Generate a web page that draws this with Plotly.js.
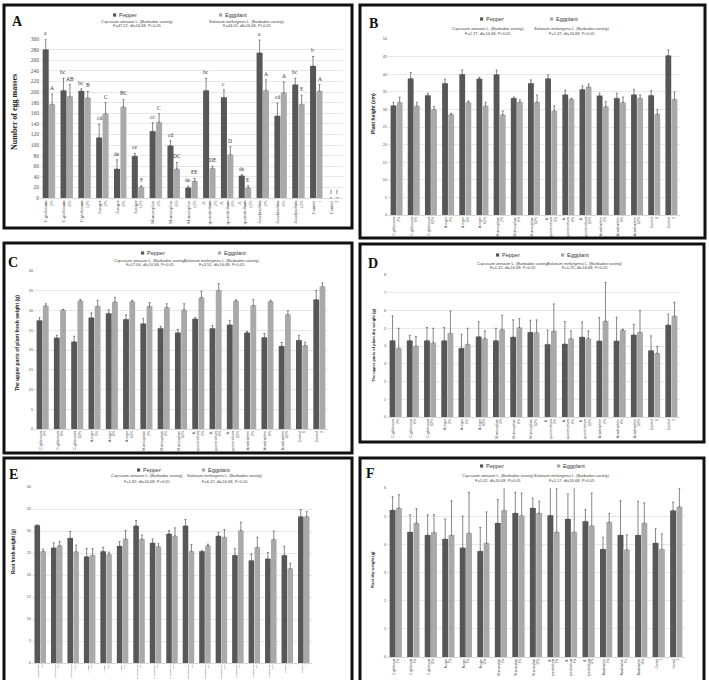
<!DOCTYPE html>
<html><head><meta charset="utf-8">
<script src="https://cdn.plot.ly/plotly-3.0.1.min.js"></script>
<style>html,body{margin:0;padding:0;background:#fff}#chart{width:709px;height:680px}</style>
</head><body><div id="chart"></div>
<script>
// ---------- data ----------
const categories = ["C.globosum<br>2%","C.globosum<br>6%","C.globosum<br>12%","A.niger<br>2%","A.niger<br>6%","A.niger<br>12%",
  "M.anisopliae<br>2%","M.anisopliae<br>6%","M.anisopliae<br>12%","A.<br>sporotrichum<br>2%","A.<br>sporotrichum<br>6%","A.<br>sporotrichum<br>12%",
  "Azadirachtin<br>2%","Azadirachtin<br>6%","Azadirachtin<br>12%","Control<br>1","Control<br>2"];

// A: number of egg masses
const aPepper    = [280,203,202,114,55,79,126,99,19.5,203,190,42,274,155,214,249,0];
const aPepperErr = [20,23,4,25,17,5,16,9,3,23,14,2,24,24,12,18,0];
const aEgg       = [177,192,189,159,172,21,143,55,32,56,82,19.5,203,199,177,202,0];
const aEggErr    = [19,22,12,21,14,2,16,12,5,4,15,4,20,20,17,12,0];
const aPepperLetters = ["a","bc","bc","cd","de","ce","cc","cd","de","bc","c","de","a","cd","bc","b","f"];
const aEggLetters    = ["A","AB","B","C","BC","F","C","DC","EE","DE","D","E","A","A","E","A","f"];

// B: plant height (cm)
const bPepper    = [31.1,38.8,34,37.4,40,38.7,39.9,33.2,37.4,38.8,34.2,35.7,33.9,33.2,34.2,34,45.3];
const bPepperErr = [0.9,1.7,0.6,1.2,1.2,0.4,1.3,0.3,1.0,1.0,1.3,1.0,0.7,1.4,1.5,1.3,1.6];
const bEgg       = [32,31,30,28.6,32,31,28.5,32.1,32.1,29.6,32.9,36.4,30.8,32,33.2,28.7,32.9];
const bEggErr    = [1.5,1.0,0.8,0.3,0.4,1.0,1.0,0.6,2.0,1.4,0.3,0.8,1.4,1.5,0.9,1.2,2.0];

// C: upper parts fresh weight (g)
const cPepper    = [27.5,23.1,22.1,28.2,29.3,27.8,26.7,25.5,24.4,27.9,25.5,26.4,24.4,23.2,21,22.5,32.8];
const cPepperErr = [0.7,0.6,1.4,1.2,0.9,1.1,1.3,0.5,0.8,0.3,0.7,1.1,0.3,1.0,0.9,1.2,2.3];
const cEgg       = [31.2,30.2,32.5,31.1,32.2,32.3,31.1,30.8,30.2,33.3,35.1,32.5,31.3,32.3,29,21.2,36.1];
const cEggErr    = [0.5,0.1,0.3,1.5,1.1,0.3,0.9,0.9,1.5,1.6,1.7,0.2,1.5,0.3,0.9,0.8,0.9];

// D: upper parts dry weight (g)
const dPepper    = [4.31,4.31,4.31,4.31,3.88,4.53,4.31,4.51,4.78,4.1,4.12,4.51,4.29,4.29,4.63,3.75,5.19];
const dPepperErr = [1.39,0.29,0.73,0.73,0.78,0.83,0.69,0.96,0.67,0.8,1.25,0.85,1.31,1.33,0.59,0.82,0.61];
const dEgg       = [3.88,4.0,4.19,4.72,4.1,4.42,4.94,5.04,4.76,4.85,4.42,4.42,5.41,4.9,4.78,3.6,5.69];
const dEggErr    = [1.12,0.53,0.81,1.25,0.9,0.43,0.79,0.5,0.71,1.52,0.43,0.43,2.17,0.05,1.22,0.37,0.77];

// E: root fresh weight (g)
const ePepper    = [31.3,26.2,28.4,24.2,25.4,26.6,31.2,27.3,29.4,31.2,25.4,28.9,24.5,23.3,23.7,24.5,33.3];
const ePepperErr = [0.1,1.1,1.5,1.8,0.9,1.0,1.2,0.9,0.7,1.4,0.1,0.8,1.5,1.5,1.4,2.0,1.6];
const eEgg       = [25.4,26.7,25.3,24.5,24.7,28.2,28.2,26.5,28.9,25.4,26.7,28.6,30.1,26.3,28.1,21.5,33.3];
const eEggErr    = [0.5,0.9,1.5,1.5,0.5,1.9,0.9,0.6,1.8,1.5,0.3,1.7,1.9,2.3,1.9,1.2,1.1];

// F: root dry weight (g)
const fPepper    = [5.22,4.44,4.33,4.19,3.88,3.76,4.76,5.11,5.29,5.03,4.9,4.82,3.83,4.33,4.33,4.05,5.2];
const fPepperErr = [0.47,0.61,0.72,0.71,1.12,0.84,0.83,0.74,0.35,1.0,0.89,0.41,0.42,1.22,1.2,0.5,0.3];
const fEgg       = [5.29,4.76,4.43,4.33,4.4,4.05,5.21,5.02,5.11,4.44,4.44,4.66,4.79,3.81,4.76,3.83,5.33];
const fEggErr    = [0.47,0.51,0.62,1.22,1.45,1.1,0.85,0.8,0.42,1.56,1.6,1.16,0.31,0.53,0.71,0.54,0.67];

const seriesNames = ["Pepper","Eggplant"];
const pepperSpecies = "<i>Capsicum annuum</i> L. (Barbados variety)";
const eggSpecies = "<i>Solanum melongena</i> L. (Barbados variety)";
const statsPepper = ["F=47.22, df=16,68, P&lt;0.05","F=1.77, df=16,68, P&lt;0.05","F=17.00, df=16,68, P&lt;0.05","F=1.32, df=16,68, P&gt;0.05","F=1.82, df=16,68, P&gt;0.05","F=1.02, df=16,68, P&gt;0.05"];
const statsEgg    = ["F=44.01, df=16,68, P&lt;0.05","F=1.37, df=16,68, P&gt;0.05","F=3.51, df=16,68, P&lt;0.05","F=1.25, df=16,68, P&gt;0.05","F=6.22, df=16,68, P&lt;0.05","F=1.17, df=16,68, P&gt;0.05"];
const yTitles = ["Number of egg masses","Plant height (cm)","The upper parts of plant fresh weight (g)","The upper parts of plant dry weight (g)","Root fresh weight (g)","Root dry weight (g)"];
const panelLetters = ["A","B","C","D","E","F"];

// ---------- layout helpers ----------
const W=709,H=680;
const px=x=>x/W, py=y=>1-y/H;
const PEP='#575757', EGG='#a9a9a9';

const panels = [
 {pep:aPepper,pepE:aPepperErr,egg:aEgg,eggE:aEggErr,frame:[4,5,352,228],plot:[40,343,39,198],range:[0,300],dtick:20,
  letter:[17,22],yt:[15,112,8],leg:{py:15,sy:[21,26],pl:122,ps:137,el:230,es:247},serif:true,xf:4.5},
 {pep:bPepper,pepE:bPepperErr,egg:bEgg,eggE:bEggErr,frame:[360,5,705,238],plot:[388,680,39,215],range:[0,50],dtick:5,
  letter:[374,24],yt:[373,113,5],leg:{py:19,sy:[29,33],pl:489,ps:488,el:561,es:572},xf:3.5},
 {pep:cPepper,pepE:cPepperErr,egg:cEgg,eggE:cEggErr,frame:[4,243,352,453],plot:[34,328,271,429],range:[0,40],dtick:5,
  letter:[13,262],yt:[17,343,5],leg:{py:253,sy:[260,265],pl:150,ps:150,el:229,es:222},xf:3.5},
 {pep:dPepper,pepE:dPepperErr,egg:dEgg,eggE:dEggErr,frame:[360,244,704,442],plot:[387,680,275,417],range:[0,8],dtick:1,
  letter:[373,263],yt:[373,345,4],leg:{py:255,sy:[263,268],pl:505,ps:513,el:572,es:585},xf:3.5},
 {pep:ePepper,pepE:ePepperErr,egg:eEgg,eggE:eEggErr,frame:[4,458,352,690],plot:[32,312,487,663],range:[0,40],dtick:5,
  letter:[13,474],yt:[13,552,4.5],leg:{py:470,sy:[476,481],pl:146,ps:147,el:213,es:225},xf:2.5},
 {pep:fPepper,pepE:fPepperErr,egg:fEgg,eggE:fEggErr,frame:[360,458,704,690],plot:[387,685,488,657],range:[0,6],dtick:1,
  letter:[370,473],yt:[372,570,4],leg:{py:466,sy:[476,480],pl:489,ps:498,el:568,es:572},xf:3}
];

const data=[], annotations=[], shapes=[];
const layout = {width:W,height:H,margin:{l:0,r:0,t:0,b:0},paper_bgcolor:'#fff',plot_bgcolor:'#fff',
  showlegend:false,barmode:'group',bargap:0.28,bargroupgap:0.06,font:{family:'Liberation Sans, Arial',color:'#444'}};

panels.forEach((p,i)=>{
  const n=i===0?'':String(i+1);
  const xa='x'+n, ya='y'+n;
  const zeros=p.pep.map(()=>0);
  [[p.pep,p.pepE,PEP,seriesNames[0]],[p.egg,p.eggE,EGG,seriesNames[1]]].forEach(s=>{
    data.push({type:'bar',x:categories,y:s[0],name:s[3],xaxis:xa,yaxis:ya,marker:{color:s[2],line:{width:0}},
      error_y:{type:'data',array:s[1],arrayminus:zeros,symmetric:false,color:'#555',thickness:0.7,width:1}});
  });
  const serif = p.serif ? 'Liberation Serif, Times New Roman' : 'Liberation Sans, Arial';
  layout['xaxis'+n]={domain:[px(p.plot[0]),px(p.plot[1])],anchor:ya,type:'category',tickangle:-90,
    tickfont:{size:p.xf,family:serif,color:'#444'},showgrid:false,showline:true,linecolor:'#bdbdbd',linewidth:0.6,ticks:'',automargin:false};
  layout['yaxis'+n]={domain:[py(p.plot[3]),py(p.plot[2])],anchor:xa,range:p.range,dtick:p.dtick,
    tickfont:{size:p.serif?5.5:3.8,family:serif,color:'#555'},gridcolor:'#d9d9d9',gridwidth:0.6,zeroline:false,showline:false,ticks:'',automargin:false};
  // frame
  shapes.push({type:'rect',xref:'paper',yref:'paper',x0:px(p.frame[0]),x1:px(p.frame[2]),y0:py(p.frame[3]),y1:py(p.frame[1]),
    line:{color:'#111',width:3},fillcolor:'rgba(0,0,0,0)'});
  // panel letter
  annotations.push({xref:'paper',yref:'paper',x:px(p.letter[0]),y:py(p.letter[1]),xanchor:'center',yanchor:'middle',showarrow:false,
    text:'<b>'+panelLetters[i]+'</b>',font:{family:'Liberation Serif, Times New Roman',size:14,color:'#111'}});
  // y title
  annotations.push({xref:'paper',yref:'paper',x:px(p.yt[0]),y:py(p.yt[1]),xanchor:'center',yanchor:'middle',showarrow:false,textangle:-90,
    text:'<b>'+yTitles[i]+'</b>',font:{family:serif,size:p.yt[2],color:'#222'}});
  // legend-like header: swatch + name
  const L=p.leg;
  [[L.pl,PEP,seriesNames[0],9],[L.el,EGG,seriesNames[1],11]].forEach(e=>{
    const sx=e[0]-e[3];
    shapes.push({type:'rect',xref:'paper',yref:'paper',x0:px(sx),x1:px(sx+3.2),y0:py(L.py+1.6),y1:py(L.py-1.6),
      line:{width:0},fillcolor:e[1]});
    annotations.push({xref:'paper',yref:'paper',x:px(sx+3.8),y:py(L.py),xanchor:'left',yanchor:'middle',showarrow:false,
      text:e[2],font:{size:5.5,color:'#333'}});
  });
  annotations.push({xref:'paper',yref:'paper',x:px(L.ps),y:py(L.sy[0]),xanchor:'center',yanchor:'middle',showarrow:false,
    text:pepperSpecies,font:{size:4,color:'#444'}});
  annotations.push({xref:'paper',yref:'paper',x:px(L.ps),y:py(L.sy[1]),xanchor:'center',yanchor:'middle',showarrow:false,
    text:statsPepper[i],font:{size:4,color:'#444'}});
  annotations.push({xref:'paper',yref:'paper',x:px(L.es),y:py(L.sy[0]),xanchor:'center',yanchor:'middle',showarrow:false,
    text:eggSpecies,font:{size:4,color:'#444'}});
  annotations.push({xref:'paper',yref:'paper',x:px(L.es),y:py(L.sy[1]),xanchor:'center',yanchor:'middle',showarrow:false,
    text:statsEgg[i],font:{size:4,color:'#444'}});
});

// significance letters on panel A
categories.forEach((c,k)=>{
  annotations.push({xref:'x',yref:'y',x:c,y:aPepper[k]+aPepperErr[k],xshift:-3.3,yshift:1,xanchor:'center',yanchor:'bottom',showarrow:false,
    text:aPepperLetters[k],font:{family:'Liberation Serif, Times New Roman',size:5.5,color:'#333'}});
  annotations.push({xref:'x',yref:'y',x:c,y:aEgg[k]+aEggErr[k],xshift:3.3,yshift:1,xanchor:'center',yanchor:'bottom',showarrow:false,
    text:aEggLetters[k],font:{family:'Liberation Serif, Times New Roman',size:5.5,color:'#333'}});
});

layout.annotations=annotations;
layout.shapes=shapes;
Plotly.newPlot('chart',data,layout,{staticPlot:true,displayModeBar:false});
</script></body></html>
